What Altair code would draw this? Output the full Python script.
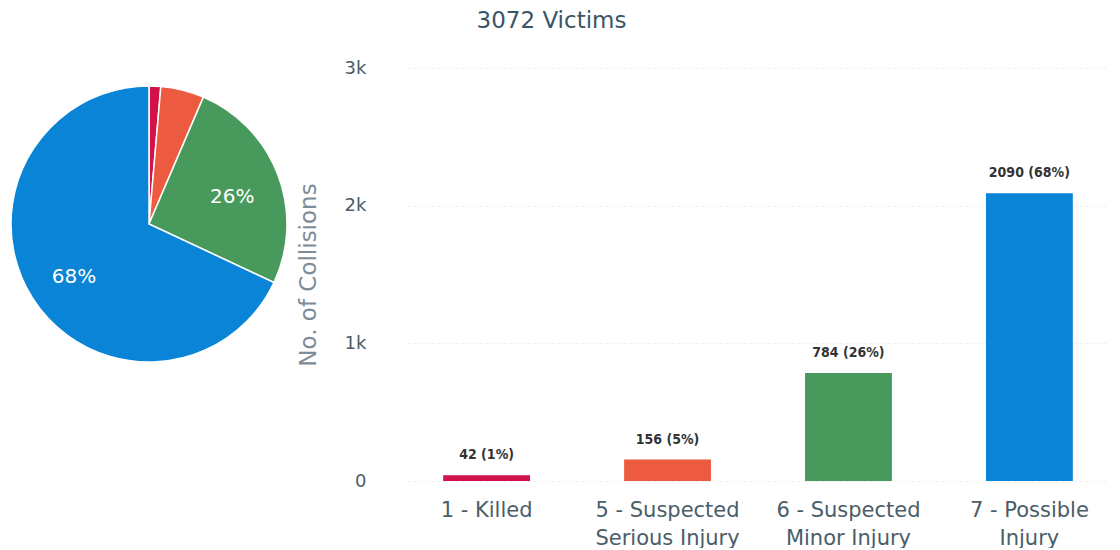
import json
import altair as alt
import pandas as pd

categories = ["1 - Killed", "5 - Suspected Serious Injury", "6 - Suspected Minor Injury", "7 - Possible Injury"]
label_lines = [["1 - Killed"], ["5 - Suspected", "Serious Injury"], ["6 - Suspected", "Minor Injury"], ["7 - Possible", "Injury"]]
victims = [42, 156, 784, 2090]
percent_labels = ["1%", "5%", "26%", "68%"]
colors = ["#d3124a", "#ec5b3f", "#47995c", "#0a84d6"]
y_ticks = [0, 1000, 2000, 3000]

total = sum(victims)
title_text = f"{total} Victims"

df = pd.DataFrame({
    "category": categories,
    "victims": victims,
    "bar_label": [f"{v} ({p})" for v, p in zip(victims, percent_labels)],
    "pie_label": [p if v / total >= 0.1 else "" for v, p in zip(victims, percent_labels)],
})

# multi-line x labels
expr = "datum.label"
for cat, lines in reversed(list(zip(categories, label_lines))):
    expr = f"datum.label == {json.dumps(cat)} ? {json.dumps(lines)} : ({expr})"

FONT = "DejaVu Sans"
color_enc = alt.Color("category:N", scale=alt.Scale(domain=categories, range=colors), legend=None)

base = alt.Chart(df)

x_enc = alt.X(
    "category:N", sort=categories,
    scale=alt.Scale(paddingInner=0.52, paddingOuter=0.2),
    axis=alt.Axis(title=None, labelAngle=0, labelExpr=expr, labelFontSize=21, labelFont=FONT,
                  labelColor="#4a5d69", labelPadding=18, labelLineHeight=28, domain=False,
                  ticks=False, labelOverlap=False, grid=False),
)
y_enc = alt.Y(
    "victims:Q", scale=alt.Scale(domain=[0, 3000]),
    axis=alt.Axis(values=y_ticks, format="~s", labelExpr="datum.value == 0 ? '0' : datum.label",
                  title="No. of Collisions", titleFontSize=23,
                  titleFont=FONT, titleFontWeight="normal", titleColor="#7d8c97", titlePadding=24,
                  labelFontSize=18, labelFont=FONT, labelColor="#4a5d69", labelPadding=41,
                  domain=False, ticks=False, gridColor="#f1f1f1", gridDash=[3, 3]),
)

bars = base.mark_bar().encode(x=x_enc, y=y_enc, color=color_enc)
bar_text = base.mark_text(dy=-13, baseline="bottom", font="DejaVu Sans Condensed", fontWeight="bold",
                          fontSize=14, color="#333333").encode(x=x_enc, y=y_enc, text="bar_label:N")
bar_chart = alt.layer(bars, bar_text).properties(width=702, height=413)

pie = base.mark_arc(outerRadius=138, stroke="white", strokeWidth=1.5).encode(
    theta=alt.Theta("victims:Q", stack=True),
    color=color_enc,
    order=alt.Order("category:N"),
    x=alt.value(139), y=alt.value(156),
)
pie_text = base.mark_text(radius=89, dy=5, fontSize=20, font=FONT, color="white").encode(
    theta=alt.Theta("victims:Q", stack=True),
    order=alt.Order("category:N"),
    text="pie_label:N",
    x=alt.value(139), y=alt.value(156),
)
pie_chart = alt.layer(pie, pie_text).properties(width=280, height=413)

chart = alt.hconcat(pie_chart, bar_chart, spacing=7).properties(
    title=alt.TitleParams(title_text, fontSize=23, font=FONT, fontWeight="normal", color="#3a5566",
                          anchor="middle", offset=26, dx=-7),
    padding={"left": 0, "top": 2, "right": 0, "bottom": 0},
).configure_view(stroke=None)

chart.save("out.html", embed_options={"renderer": "svg", "actions": False})
